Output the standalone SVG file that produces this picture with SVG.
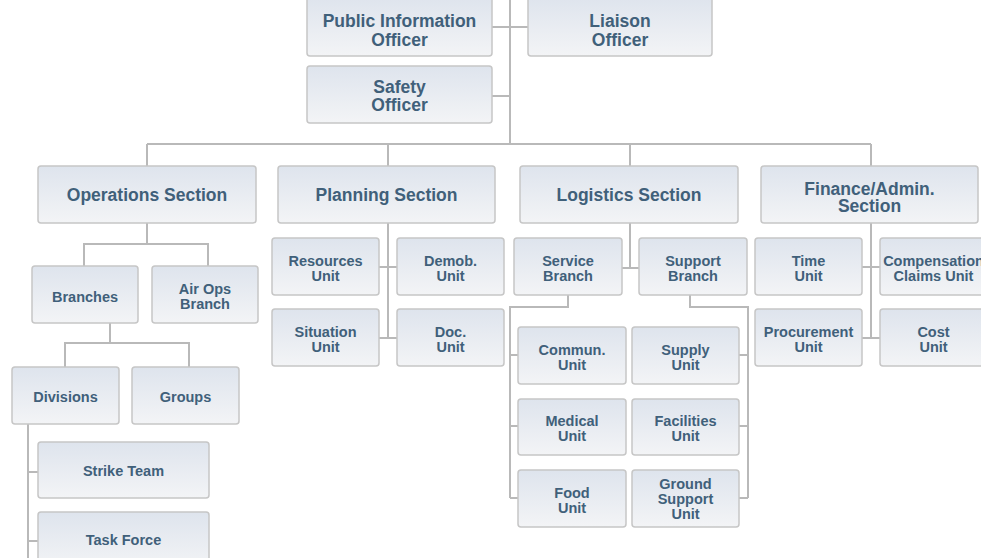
<svg xmlns="http://www.w3.org/2000/svg" width="981" height="558" viewBox="0 0 981 558">
  <defs>
    <linearGradient id="boxFill" x1="0" y1="0" x2="0" y2="1">
      <stop offset="0" stop-color="#dee4ed"/>
      <stop offset="1" stop-color="#f3f4f6"/>
    </linearGradient>
    <style>
      .box { fill: url(#boxFill); stroke: #c6c6c6; stroke-width: 1.5; }
      .lbl { font-family: "Liberation Sans", Arial, Helvetica, sans-serif; font-weight: bold; fill: #40607a; text-anchor: middle; }
      .big { font-size: 17.5px; }
      .sm { font-size: 14.5px; }
      .wire { fill: none; stroke: #b9b9b9; stroke-width: 2; }
    </style>
  </defs>
  <rect x="0" y="0" width="981" height="558" fill="#ffffff"/>

  <!-- connectors -->
  <g id="connectors" class="wire">
    <!-- command staff trunk -->
    <path d="M510 0 V144"/>
    <path d="M492 27 H528"/>
    <path d="M492 96 H510"/>
    <!-- general staff bus -->
    <path d="M147 144 H871"/>
    <path d="M147 144 V166 M388 144 V166 M630 144 V166 M871 144 V166"/>
    <!-- operations -->
    <path d="M147 223 V244 M84 266 V244 H208 V266"/>
    <path d="M110 323 V343 M65 367 V343 H189 V367"/>
    <path d="M28 424 V558 M28 472 H38 M28 541 H38"/>
    <!-- planning -->
    <path d="M388 223 V338 M379 267 H397 M379 338 H397"/>
    <!-- logistics -->
    <path d="M630 223 V268 M622 268 H639"/>
    <path d="M568 295 V307 H510 V498 M510 355 H518 M510 426 H518 M510 498 H518"/>
    <path d="M690 295 V307 H748 V498 M739 355 H748 M739 426 H748 M739 498 H748"/>
    <!-- finance -->
    <path d="M871 223 V338 M862 267 H880 M862 338 H880"/>
  </g>

  <!-- command staff -->
  <g id="pio"><rect class="box" x="307" y="-3" width="185" height="59" rx="3"/>
    <text class="lbl big" x="399.5" y="27.3">Public Information</text>
    <text class="lbl big" x="399.5" y="45.5">Officer</text></g>
  <g id="liaison"><rect class="box" x="528" y="-3" width="184" height="59" rx="3"/>
    <text class="lbl big" x="620" y="27.3">Liaison</text>
    <text class="lbl big" x="620" y="45.5">Officer</text></g>
  <g id="safety"><rect class="box" x="307" y="66" width="185" height="57" rx="3"/>
    <text class="lbl big" x="399.5" y="93">Safety</text>
    <text class="lbl big" x="399.5" y="111">Officer</text></g>

  <!-- sections -->
  <g id="operations"><rect class="box" x="38" y="166" width="218" height="57" rx="3"/>
    <text class="lbl big" x="147" y="200.5">Operations Section</text></g>
  <g id="planning"><rect class="box" x="278" y="166" width="217" height="57" rx="3"/>
    <text class="lbl big" x="386.5" y="200.5">Planning Section</text></g>
  <g id="logistics"><rect class="box" x="520" y="166" width="218" height="57" rx="3"/>
    <text class="lbl big" x="629" y="200.5">Logistics Section</text></g>
  <g id="finance"><rect class="box" x="761" y="166" width="217" height="57" rx="3"/>
    <text class="lbl big" x="869.5" y="195">Finance/Admin.</text>
    <text class="lbl big" x="869.5" y="212">Section</text></g>

  <!-- operations units -->
  <g id="branches"><rect class="box" x="32" y="266" width="106" height="57" rx="3"/>
    <text class="lbl sm" x="85" y="301.5">Branches</text></g>
  <g id="air-ops"><rect class="box" x="152" y="266" width="106" height="57" rx="3"/>
    <text class="lbl sm" x="205" y="293.5">Air Ops</text>
    <text class="lbl sm" x="205" y="308.5">Branch</text></g>
  <g id="divisions"><rect class="box" x="12" y="367" width="107" height="57" rx="3"/>
    <text class="lbl sm" x="65.5" y="402">Divisions</text></g>
  <g id="groups"><rect class="box" x="132" y="367" width="107" height="57" rx="3"/>
    <text class="lbl sm" x="185.5" y="402">Groups</text></g>
  <g id="strike-team"><rect class="box" x="38" y="442" width="171" height="56" rx="3"/>
    <text class="lbl sm" x="123.5" y="476">Strike Team</text></g>
  <g id="task-force"><rect class="box" x="38" y="512" width="171" height="57" rx="3"/>
    <text class="lbl sm" x="123.5" y="545">Task Force</text></g>

  <!-- planning units -->
  <g id="resources"><rect class="box" x="272" y="238" width="107" height="57" rx="3"/>
    <text class="lbl sm" x="325.5" y="265.5">Resources</text>
    <text class="lbl sm" x="325.5" y="280.5">Unit</text></g>
  <g id="demob"><rect class="box" x="397" y="238" width="107" height="57" rx="3"/>
    <text class="lbl sm" x="450.5" y="265.5">Demob.</text>
    <text class="lbl sm" x="450.5" y="280.5">Unit</text></g>
  <g id="situation"><rect class="box" x="272" y="309" width="107" height="57" rx="3"/>
    <text class="lbl sm" x="325.5" y="336.5">Situation</text>
    <text class="lbl sm" x="325.5" y="351.5">Unit</text></g>
  <g id="doc"><rect class="box" x="397" y="309" width="107" height="57" rx="3"/>
    <text class="lbl sm" x="450.5" y="336.5">Doc.</text>
    <text class="lbl sm" x="450.5" y="351.5">Unit</text></g>

  <!-- logistics units -->
  <g id="service-branch"><rect class="box" x="514" y="238" width="108" height="57" rx="3"/>
    <text class="lbl sm" x="568" y="265.5">Service</text>
    <text class="lbl sm" x="568" y="280.5">Branch</text></g>
  <g id="support-branch"><rect class="box" x="639" y="238" width="108" height="57" rx="3"/>
    <text class="lbl sm" x="693" y="265.5">Support</text>
    <text class="lbl sm" x="693" y="280.5">Branch</text></g>
  <g id="commun"><rect class="box" x="518" y="327" width="108" height="57" rx="3"/>
    <text class="lbl sm" x="572" y="354.5">Commun.</text>
    <text class="lbl sm" x="572" y="369.5">Unit</text></g>
  <g id="supply"><rect class="box" x="632" y="327" width="107" height="57" rx="3"/>
    <text class="lbl sm" x="685.5" y="354.5">Supply</text>
    <text class="lbl sm" x="685.5" y="369.5">Unit</text></g>
  <g id="medical"><rect class="box" x="518" y="399" width="108" height="56" rx="3"/>
    <text class="lbl sm" x="572" y="426">Medical</text>
    <text class="lbl sm" x="572" y="441">Unit</text></g>
  <g id="facilities"><rect class="box" x="632" y="399" width="107" height="56" rx="3"/>
    <text class="lbl sm" x="685.5" y="426">Facilities</text>
    <text class="lbl sm" x="685.5" y="441">Unit</text></g>
  <g id="food"><rect class="box" x="518" y="470" width="108" height="57" rx="3"/>
    <text class="lbl sm" x="572" y="497.5">Food</text>
    <text class="lbl sm" x="572" y="512.5">Unit</text></g>
  <g id="ground-support"><rect class="box" x="632" y="470" width="107" height="57" rx="3"/>
    <text class="lbl sm" x="685.5" y="489">Ground</text>
    <text class="lbl sm" x="685.5" y="504">Support</text>
    <text class="lbl sm" x="685.5" y="519">Unit</text></g>

  <!-- finance units -->
  <g id="time"><rect class="box" x="755" y="238" width="107" height="57" rx="3"/>
    <text class="lbl sm" x="808.5" y="265.5">Time</text>
    <text class="lbl sm" x="808.5" y="280.5">Unit</text></g>
  <g id="compensation"><rect class="box" x="880" y="238" width="107" height="57" rx="3"/>
    <text class="lbl sm" x="933.5" y="265.5">Compensation</text>
    <text class="lbl sm" x="933.5" y="280.5">Claims Unit</text></g>
  <g id="procurement"><rect class="box" x="755" y="309" width="107" height="57" rx="3"/>
    <text class="lbl sm" x="808.5" y="336.5">Procurement</text>
    <text class="lbl sm" x="808.5" y="351.5">Unit</text></g>
  <g id="cost"><rect class="box" x="880" y="309" width="107" height="57" rx="3"/>
    <text class="lbl sm" x="933.5" y="336.5">Cost</text>
    <text class="lbl sm" x="933.5" y="351.5">Unit</text></g>
</svg>
